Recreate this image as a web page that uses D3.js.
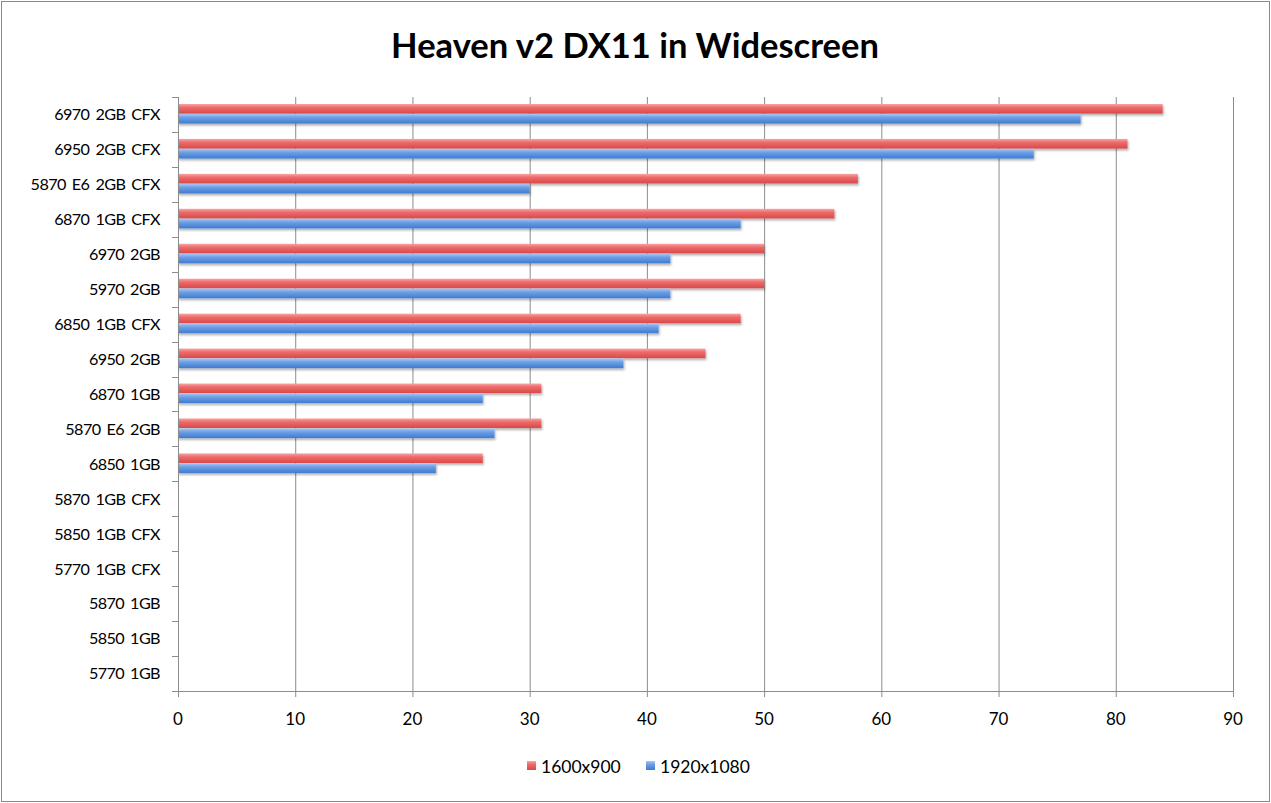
<!DOCTYPE html>
<html>
<head>
<meta charset="utf-8">
<script src="https://cdn.jsdelivr.net/npm/d3@7"></script>
<style>
  html, body { margin: 0; padding: 0; background: #fff; }
  svg { display: block; }
  text { font-family: Lato, "Open Sans", sans-serif; fill: #000; }
</style>
</head>
<body>
<svg id="chart" width="1271" height="803"></svg>
<script>
const TITLE = 'Heaven v2 DX11 in Widescreen';

const CARDS = [
  '6970 2GB CFX', '6950 2GB CFX', '5870 E6 2GB CFX', '6870 1GB CFX',
  '6970 2GB', '5970 2GB', '6850 1GB CFX', '6950 2GB', '6870 1GB',
  '5870 E6 2GB', '6850 1GB', '5870 1GB CFX', '5850 1GB CFX',
  '5770 1GB CFX', '5870 1GB', '5850 1GB', '5770 1GB'
];

const SERIES = ['1600x900', '1920x1080'];

// fps; null = no result
const FPS_1600 = [84, 81, 58, 56, 50, 50, 48, 45, 31, 31, 26, null, null, null, null, null, null];
const FPS_1920 = [77, 73, 30, 48, 42, 42, 41, 38, 26, 27, 22, null, null, null, null, null, null];

const X_TICKS = [0, 10, 20, 30, 40, 50, 60, 70, 80, 90];

const COLORS = {
  '1600x900':  ['#f8a5a5', '#ee6c6c', '#d94848'],
  '1920x1080': ['#a8c7f4', '#6fa0e6', '#3e7bd0']
};

const svg = d3.select('#chart');
const W = 1271, H = 803;
const M = { left: 178, right: 1233, top: 97, bottom: 691 };

// outer frame
svg.append('rect')
  .attr('x', 1.5).attr('y', 1.5)
  .attr('width', W - 3).attr('height', H - 3)
  .attr('fill', '#fff').attr('stroke', '#8a8a8a').attr('stroke-width', 1);

const defs = svg.append('defs');
SERIES.forEach((s, i) => {
  const g = defs.append('linearGradient')
    .attr('id', 'grad' + i)
    .attr('x1', 0).attr('y1', 0).attr('x2', 0).attr('y2', 1);
  g.append('stop').attr('offset', '0%').attr('stop-color', COLORS[s][0]);
  g.append('stop').attr('offset', '35%').attr('stop-color', COLORS[s][1]);
  g.append('stop').attr('offset', '100%').attr('stop-color', COLORS[s][2]);
});
const shadow = defs.append('filter').attr('id', 'shadow')
  .attr('x', '-5%').attr('y', '-50%').attr('width', '110%').attr('height', '250%');
shadow.append('feDropShadow')
  .attr('dx', 1).attr('dy', 2).attr('stdDeviation', 1.2)
  .attr('flood-color', '#000').attr('flood-opacity', 0.3);

const x = d3.scaleLinear().domain([0, 90]).range([M.left, M.right]);
const y = d3.scaleBand().domain(CARDS).range([M.top, M.bottom]);
const bw = y.bandwidth();
const y1 = d3.scaleBand().domain(SERIES).range([bw * 0.2, bw * 0.76]).paddingInner(0.04);

// title
svg.append('text')
  .attr('x', 635).attr('y', 58)
  .attr('text-anchor', 'middle')
  .attr('font-size', 34.5).attr('font-weight', 'bold')
  .text(TITLE);

const AXIS = '#8c8c8c';

// vertical gridlines (extend below axis as tick marks)
svg.append('g').selectAll('line')
  .data(X_TICKS.slice(1))
  .join('line')
  .attr('x1', d => x(d) + 0.5).attr('x2', d => x(d) + 0.5)
  .attr('y1', M.top).attr('y2', M.bottom + 6)
  .attr('stroke', AXIS).attr('stroke-width', 1);

// bars
const rows = CARDS.map((c, i) => ({ card: c, vals: [FPS_1600[i], FPS_1920[i]] }));
const barG = svg.append('g').attr('filter', 'url(#shadow)');
rows.forEach(r => {
  r.vals.forEach((v, j) => {
    if (v == null) return;
    barG.append('rect')
      .attr('x', x(0))
      .attr('y', y(r.card) + y1(SERIES[j]))
      .attr('width', x(v) - x(0))
      .attr('height', y1.bandwidth())
      .attr('fill', 'url(#grad' + j + ')');
  });
});

// y axis
const yAxisG = svg.append('g');
yAxisG.append('line')
  .attr('x1', M.left + 0.5).attr('x2', M.left + 0.5)
  .attr('y1', M.top).attr('y2', M.bottom + 6)
  .attr('stroke', AXIS);
const bounds = CARDS.map(c => y(c)).concat([M.bottom]);
yAxisG.selectAll('line.tick')
  .data(bounds)
  .join('line')
  .attr('class', 'tick')
  .attr('x1', M.left - 6).attr('x2', M.left)
  .attr('y1', d => Math.round(d) + 0.5).attr('y2', d => Math.round(d) + 0.5)
  .attr('stroke', AXIS);
yAxisG.selectAll('text')
  .data(CARDS)
  .join('text')
  .attr('x', 160)
  .attr('y', d => y(d) + bw / 2)
  .attr('dy', '0.36em')
  .attr('text-anchor', 'end')
  .attr('font-size', 16.2)
  .attr('letter-spacing', -0.6)
  .attr('word-spacing', 2.5)
  .text(d => d);

// x axis
const xAxisG = svg.append('g');
xAxisG.append('line')
  .attr('x1', M.left - 6).attr('x2', M.right)
  .attr('y1', M.bottom + 0.5).attr('y2', M.bottom + 0.5)
  .attr('stroke', AXIS);
xAxisG.selectAll('text')
  .data(X_TICKS)
  .join('text')
  .attr('x', d => x(d))
  .attr('y', 725)
  .attr('text-anchor', 'middle')
  .attr('font-size', 17)
  .text(d => d);

// legend
const legend = svg.append('g');
const LEG_X = [527, 646];
SERIES.forEach((s, i) => {
  legend.append('rect')
    .attr('x', LEG_X[i]).attr('y', 761)
    .attr('width', 9).attr('height', 9)
    .attr('fill', 'url(#grad' + i + ')');
  legend.append('text')
    .attr('x', LEG_X[i] + 14).attr('y', 767)
    .attr('dy', '0.36em')
    .attr('font-size', 17.5)
    .text(s);
});
</script>
</body>
</html>
